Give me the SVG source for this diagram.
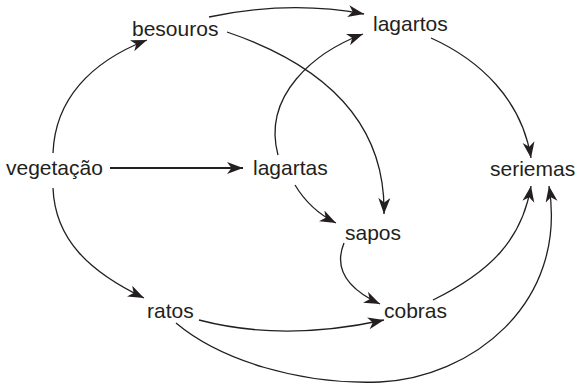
<svg xmlns="http://www.w3.org/2000/svg" width="578" height="385" viewBox="0 0 578 385">
<style>
text{font-family:"Liberation Sans",Arial,sans-serif;font-size:21px;fill:#231f20}
.c{fill:none;stroke:#231f20;stroke-width:1.3}
.t{stroke-width:2}
</style>
<defs>
<marker id="a" markerUnits="userSpaceOnUse" markerWidth="18" markerHeight="13" refX="16" refY="6" orient="auto">
<path d="M0,0 L16,6 L0,12 L4.5,6 z" fill="#231f20"/>
</marker>
</defs>
<rect width="578" height="385" fill="#fff"/>
<g id="connectors">
<path class="c" d="M209,17 Q290,0 364,14" marker-end="url(#a)"/>
<path class="c" d="M227,32 C315,62 386,115 384,214" marker-end="url(#a)"/>
<path class="c" d="M278,155 C262,95 315,52 363,34" marker-end="url(#a)"/>
<path class="c t" d="M110,168 L243,168" marker-end="url(#a)"/>
<path class="c" d="M53,153 C55,100 90,62 147,40" marker-end="url(#a)"/>
<path class="c" d="M53,188 C55,240 90,272 144,298" marker-end="url(#a)"/>
<path class="c" d="M295,185 Q310,210 336,223" marker-end="url(#a)"/>
<path class="c" d="M431,38 C480,60 522,100 531,158" marker-end="url(#a)"/>
<path class="c" d="M344,243 C333,270 350,290 380,304" marker-end="url(#a)"/>
<path class="c" d="M199,320 C260,336 320,334 384,320" marker-end="url(#a)"/>
<path class="c" d="M433,300 C490,272 522,240 531,186" marker-end="url(#a)"/>
<path class="c" d="M176,323 C220,360 300,385 380,382 C470,378 568,305 549,186" marker-end="url(#a)"/>
</g>
<g id="besouros"><text x="132" y="36">besouros</text></g>
<g id="lagartos"><text x="373" y="31">lagartos</text></g>
<g id="vegetacao"><text x="6" y="175">vegetação</text></g>
<g id="lagartas"><text x="253" y="175">lagartas</text></g>
<g id="seriemas"><text x="490" y="176">seriemas</text></g>
<g id="sapos"><text x="345" y="240">sapos</text></g>
<g id="ratos"><text x="147" y="318">ratos</text></g>
<g id="cobras"><text x="384" y="318">cobras</text></g>
</svg>
